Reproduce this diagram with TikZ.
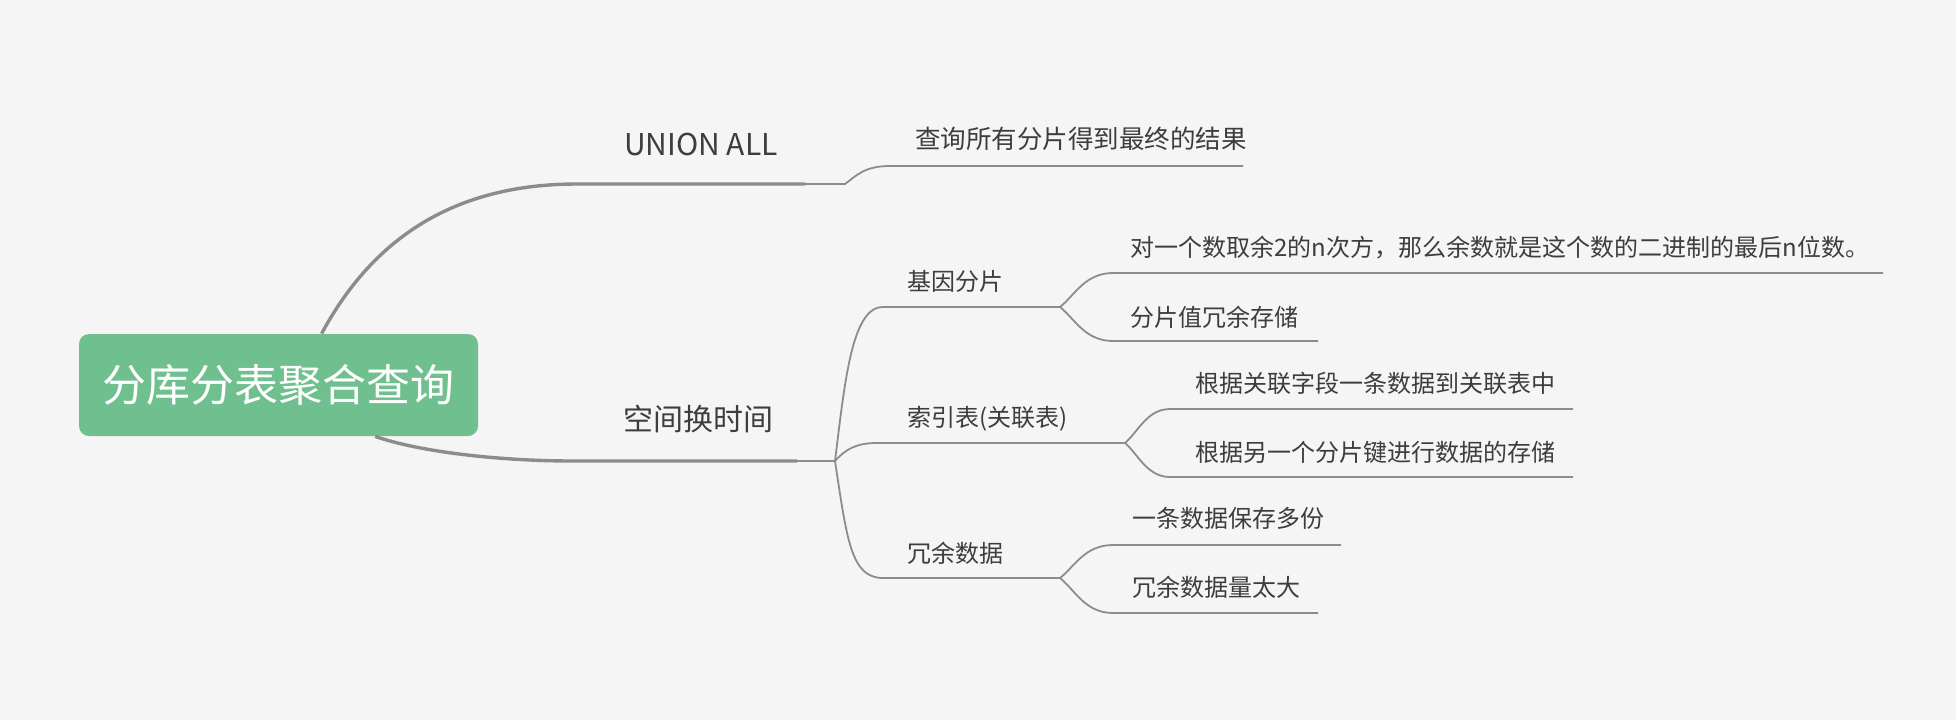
\documentclass[tikz,border=0pt]{standalone}
\usepackage{fontspec}
\setmainfont{Noto Sans CJK SC}
\definecolor{bgcolor}{HTML}{F5F5F5}
\definecolor{rootgreen}{HTML}{70C08F}
\definecolor{linegray}{HTML}{8C8C8C}
\definecolor{textgray}{HTML}{3D3D3D}
\tikzset{
	rootbox/.style={rectangle,rounded corners=5pt,fill=rootgreen,text=white,minimum width=199.5pt,minimum height=51pt,inner sep=0pt,font=\fontsize{22}{26}\selectfont},
	trunk/.style={draw=linegray,line width=1.7pt},
	twig/.style={draw=linegray,line width=0.9pt}
}
\begin{document}
\begin{tikzpicture}[x=0.5pt,y=-0.5pt]
				\fill [bgcolor] (0,0) rectangle (1956,720);
				\useasboundingbox (0,0) rectangle (1956,720);
				
				\node [rootbox] (Root) at (278.5,385) {分库分表聚合查询};
				
				\coordinate (UnionL) at (577,184);
				\coordinate (UnionR) at (805,184);
				\coordinate (UnionFork) at (845,184);
				\coordinate (QueryL) at (890,166);
				\coordinate (QueryR) at (1243,166);
				\coordinate (SpaceL) at (573,461);
				\coordinate (SpaceR) at (797,461);
				\coordinate (SpaceFork) at (835,461);
				\coordinate (GeneL) at (883,307);
				\coordinate (GeneR) at (1060,307);
				\coordinate (IndexL) at (877,443);
				\coordinate (IndexR) at (1125,443);
				\coordinate (RedunL) at (883,578);
				\coordinate (RedunR) at (1060,578);
				\coordinate (ModL) at (1113,273);
				\coordinate (ModR) at (1883,273);
				\coordinate (DupL) at (1113,341);
				\coordinate (DupR) at (1318,341);
				\coordinate (FieldL) at (1170,409);
				\coordinate (FieldR) at (1573,409);
				\coordinate (KeyL) at (1170,477);
				\coordinate (KeyR) at (1573,477);
				\coordinate (CopyL) at (1113,545);
				\coordinate (CopyR) at (1341,545);
				\coordinate (SizeL) at (1113,613);
				\coordinate (SizeR) at (1318,613);
				
				\draw [trunk] (Root.50) .. controls (380,225) and (470,184) .. (UnionL) -- (UnionR);
				\draw [trunk] (Root.-28.4) .. controls (420,452) and (500,461) .. (SpaceL) -- (SpaceR);
				\draw [twig] (UnionR) -- (UnionFork) .. controls (856,176) and (864,166) .. (QueryL) -- (QueryR);
				\draw [twig] (SpaceR) -- (SpaceFork);
				\draw [twig] (SpaceFork) .. controls (845,380) and (852,307) .. (GeneL) -- (GeneR);
				\draw [twig] (SpaceFork) .. controls (845,450) and (855,443) .. (IndexL) -- (IndexR);
				\draw [twig] (SpaceFork) .. controls (847,540) and (851,578) .. (RedunL) -- (RedunR);
				\draw [twig] (GeneR) .. controls (1075,295) and (1085,273) .. (ModL) -- (ModR);
				\draw [twig] (GeneR) .. controls (1075,319) and (1085,341) .. (DupL) -- (DupR);
				\draw [twig] (IndexR) .. controls (1138,432) and (1147,409) .. (FieldL) -- (FieldR);
				\draw [twig] (IndexR) .. controls (1138,454) and (1147,477) .. (KeyL) -- (KeyR);
				\draw [twig] (RedunR) .. controls (1075,566) and (1085,545) .. (CopyL) -- (CopyR);
				\draw [twig] (RedunR) .. controls (1075,590) and (1085,613) .. (SizeL) -- (SizeR);
				
				\begin{scope}[every node/.style={anchor=base west,inner sep=0pt,text=textgray,font=\fontsize{15}{18}\selectfont}]
					\node [anchor=base] (UnionAll) at (701,155) {UNION ALL};
					\node (SpaceTime) at (623,430) {空间换时间};
				\end{scope}
				\begin{scope}[every node/.style={anchor=base west,inner sep=0pt,text=textgray,font=\fontsize{12}{14}\selectfont}]
					\node [font=\fontsize{12.75}{15}\selectfont] (QueryAll) at (915,148) {查询所有分片得到最终的结果};
					\node (GeneShard) at (907,290) {基因分片};
					\node (IndexTable) at (907,426) {索引表(关联表)};
					\node (Redundant) at (907,562) {冗余数据};
					\node (ModBits) at (1130,256) {对一个数取余2的n次方，那么余数就是这个数的二进制的最后n位数。};
					\node (DupShard) at (1130,326) {分片值冗余存储};
					\node (ByField) at (1195,392) {根据关联字段一条数据到关联表中};
					\node (ByKey) at (1195,461) {根据另一个分片键进行数据的存储};
					\node (MultiCopy) at (1132,527) {一条数据保存多份};
					\node (TooLarge) at (1132,596) {冗余数据量太大};
				\end{scope}
			\end{tikzpicture}
\end{document}
